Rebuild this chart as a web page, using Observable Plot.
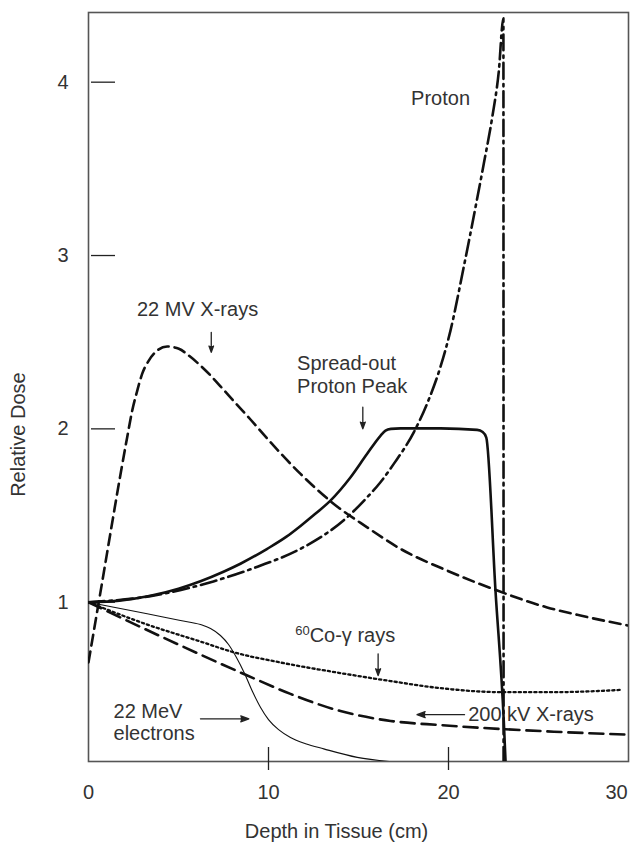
<!DOCTYPE html>
<html>
<head>
<meta charset="utf-8">
<script src="https://cdn.jsdelivr.net/npm/d3@7"></script>
<script src="https://cdn.jsdelivr.net/npm/@observablehq/plot@0.6"></script>
<style>
  html, body { margin: 0; padding: 0; background: #fff; }
  #chart svg { display: block; }
</style>
</head>
<body>
<div id="chart"></div>
<script>
// ---- Data (depth in cm, relative dose) ----
const mv22Depth = [0, 0.57, 2.15, 2.43, 2.71, 2.98, 3.35, 3.82, 4.37, 5.02, 5.57, 6.22, 6.78, 7.44, 8.07, 9.0, 9.93, 11.78, 13.63, 15.48, 17.33, 19.93, 22.71, 25.48, 27.33, 30];
const mv22Dose  = [0.653, 1.0, 1.952, 2.106, 2.221, 2.317, 2.394, 2.452, 2.475, 2.462, 2.423, 2.365, 2.308, 2.233, 2.160, 2.054, 1.944, 1.740, 1.567, 1.432, 1.308, 1.182, 1.067, 0.970, 0.923, 0.865];

const protonDepth = [0, 3.44, 6.94, 9.39, 11.78, 14.37, 15.48, 16.22, 16.96, 18.07, 18.83, 19.56, 20.11, 20.83, 21.59, 21.96, 22.43, 22.79, 23.05, 23.06];
const protonDose  = [1.0, 1.035, 1.12, 1.205, 1.308, 1.49, 1.605, 1.692, 1.798, 1.98, 2.15, 2.36, 2.567, 2.925, 3.327, 3.529, 3.798, 4.058, 4.368, 0.081];

const soppDepth = [0, 1.72, 3.44, 5.0, 6.22, 7.5, 8.44, 9.93, 11.0, 11.78, 12.6, 13.44, 14.56, 15.48, 16.22, 16.5, 16.8, 17.33, 19.56, 21.59, 21.9, 22.1, 22.61, 23.07, 23.17];
const soppDose  = [1.0, 1.009, 1.037, 1.078, 1.121, 1.176, 1.222, 1.308, 1.378, 1.44, 1.51, 1.586, 1.721, 1.856, 1.96, 1.99, 2.0, 2.003, 2.003, 1.994, 1.982, 1.95, 1.067, 0.317, 0.081];

const coDepth = [0, 3.26, 6.22, 8.07, 10.67, 14.0, 16.78, 19.56, 22.98, 25.85, 29.56];
const coDose  = [1.0, 0.871, 0.773, 0.711, 0.652, 0.591, 0.545, 0.504, 0.481, 0.481, 0.494];

const kv200Depth = [0, 5.11, 8.76, 11.22, 14.0, 16.78, 19.56, 22.98, 25.85, 29.93];
const kv200Dose  = [1.0, 0.750, 0.580, 0.471, 0.372, 0.315, 0.291, 0.268, 0.253, 0.236];

const elecDepth = [0, 1.41, 3.26, 5.11, 6.22, 6.78, 7.33, 7.78, 8.22, 8.67, 9.11, 9.56, 10.0, 10.56, 11.22, 12.06, 13.07, 14.93, 16.78];
const elecDose  = [1.0, 0.971, 0.933, 0.894, 0.871, 0.848, 0.808, 0.756, 0.681, 0.589, 0.485, 0.393, 0.323, 0.265, 0.220, 0.184, 0.154, 0.105, 0.080];

// axis ticks
const xTickValues = [0, 10, 20, 30];
const xTickLabels = ["0", "10", "20", "30"];
const yTickValues = [1, 2, 3, 4];
const yTickLabels = ["1", "2", "3", "4"];

// annotations (data coordinates)
const coLabel    = "60Co-\u03b3 rays";
const noteText   = ["Proton", "22 MV X-rays", "Spread-out\nProton Peak", coLabel, "22 MeV\nelectrons", "200 kV X-rays"];
const noteDepth  = [19.56, 6.06, 11.59, 14.26, 1.39, 24.58];
const noteDose   = [3.912, 2.694, 2.313, 0.813, 0.311, 0.357];
const noteAnchor = ["middle", "middle", "start", "middle", "start", "middle"];

// arrows (data coordinates)
const arrowX1 = [6.82, 15.24, 16.09, 6.22, 20.89];
const arrowY1 = [2.557, 2.125, 0.702, 0.327, 0.351];
const arrowX2 = [6.82, 15.24, 16.09, 8.91, 18.25];
const arrowY2 = [2.442, 2.0, 0.577, 0.327, 0.351];

// ---- build tables ----
const zip = (xs, ys) => xs.map((x, i) => ({depth: x, dose: ys[i]}));
const mv22 = zip(mv22Depth, mv22Dose);
const proton = zip(protonDepth, protonDose);
const sopp = zip(soppDepth, soppDose);
const co = zip(coDepth, coDose);
const kv200 = zip(kv200Depth, kv200Dose);
const elec = zip(elecDepth, elecDose);
const notes = noteText.map((t, i) => ({t, x: noteDepth[i], y: noteDose[i], a: noteAnchor[i]}));
const arrows = arrowX1.map((x1, i) => ({x1, y1: arrowY1[i], x2: arrowX2[i], y2: arrowY2[i]}));

const font = "'Liberation Sans', Arial, Helvetica, sans-serif";
const ink = "#111";
const textInk = "#333";

const lineOpts = (extra) => Object.assign({x: "depth", y: "dose", curve: "monotone-x", stroke: ink, clip: true}, extra);
const fmtX = d => xTickLabels[xTickValues.indexOf(d)];
const fmtY = d => yTickLabels[yTickValues.indexOf(d)];

const chart = Plot.plot({
  width: 630,
  height: 845,
  marginLeft: 88,
  marginRight: 2,
  marginTop: 12,
  marginBottom: 84,
  style: {fontFamily: font, fontSize: "20px", color: textInk, background: "#fff"},
  x: {domain: [0, 30]},
  y: {domain: [0.081, 4.402]},
  marks: [
    Plot.frame({stroke: "#555", strokeWidth: 1.6}),
    // inward ticks
    Plot.tickY(yTickValues, {y: d => d, insetLeft: 3, insetRight: 513, stroke: "#222", strokeWidth: 1.3}),
    Plot.tickX(xTickValues.slice(1, 3), {x: d => d, insetTop: 735, insetBottom: -9, stroke: "#222", strokeWidth: 1.3}),
    // tick labels
    Plot.axisY({ticks: yTickValues, tickFormat: fmtY, tickSize: 0, tickPadding: 20, label: null, fontSize: 20, fill: textInk}),
    Plot.axisX({ticks: xTickValues.slice(0, 3), tickFormat: fmtX, tickSize: 0, tickPadding: 23, label: null, fontSize: 20, fill: textInk}),
    Plot.axisX({ticks: xTickValues.slice(3), tickFormat: fmtX, tickSize: 0, tickPadding: 23, dx: -12, label: null, fontSize: 20, fill: textInk}),
    // axis titles
    Plot.text(["Depth in Tissue (cm)"], {x: [13.78], frameAnchor: "bottom", dy: 70, lineAnchor: "middle", textAnchor: "middle", text: d => d, fontSize: 20, fill: textInk}),
    Plot.text(["Relative Dose"], {y: [1.967], frameAnchor: "left", dx: -70, rotate: -90, textAnchor: "middle", lineAnchor: "middle", text: d => d, fontSize: 20, fill: textInk}),
    // curves
    Plot.line(elec, lineOpts({strokeWidth: 1.1})),
    Plot.line(co, lineOpts({strokeWidth: 2.3, strokeDasharray: "2.2,3"})),
    Plot.line(kv200, lineOpts({strokeWidth: 2.6, strokeDasharray: "14,7"})),
    Plot.line(mv22, lineOpts({strokeWidth: 2.6, strokeDasharray: "11,6"})),
    Plot.line(proton, lineOpts({strokeWidth: 2.6, strokeDasharray: "16,5,2.5,5"})),
    Plot.line(sopp, lineOpts({strokeWidth: 2.6})),
    // annotations
    ...["middle", "start"].map(anchor => Plot.text(notes.filter(n => n.a === anchor), {x: "x", y: "y", text: "t", textAnchor: anchor, lineHeight: 1.15, fontSize: 20, fill: textInk})),
    Plot.arrow(arrows, {x1: "x1", y1: "y1", x2: "x2", y2: "y2", stroke: "#222", fill: "#222", strokeWidth: 1.3, headLength: 10, headAngle: 40})
  ]
});

// superscript mass number in the cobalt label
d3.select(chart).selectAll("text")
  .filter(function() { return this.textContent === coLabel; })
  .each(function() {
    const t = d3.select(this);
    t.text(null);
    t.append("tspan").attr("font-size", 13).attr("dy", -7).text("60");
    t.append("tspan").attr("dy", 7).text("Co-\u03b3 rays");
  });
// make sure arrow heads are filled
d3.select(chart).selectAll("g[aria-label='arrow'] path").attr("fill", "#222");

document.getElementById("chart").appendChild(chart);
</script>
</body>
</html>
